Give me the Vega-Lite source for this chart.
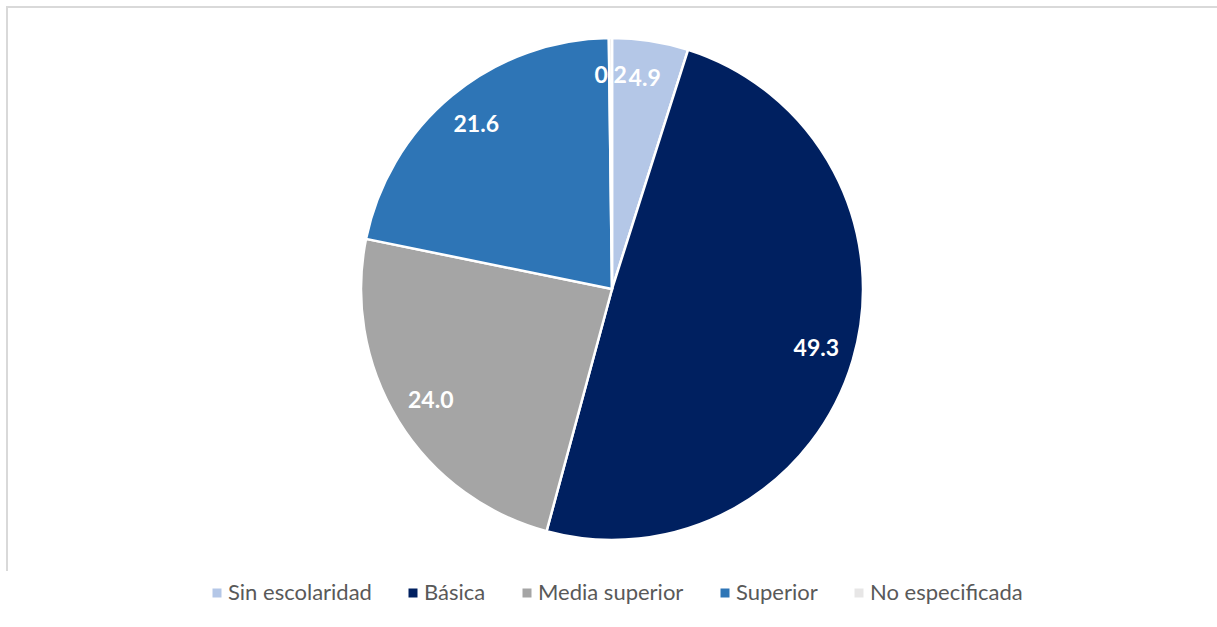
{
  "$schema": "https://vega.github.io/schema/vega-lite/v6.json",
  "width": 1210,
  "height": 564,
  "padding": {"left": 7, "top": 7, "right": 0, "bottom": 0},
  "autosize": {"type": "pad"},
  "background": "white",
  "view": {"stroke": "#D9D9D9", "strokeWidth": 2, "strokeDash": [1210, 1774, 564], "fill": "white"},
  "data": {
    "values": [
      {"cat": "Sin escolaridad", "val": 4.9, "label": "4.9", "ord": 1},
      {"cat": "Básica", "val": 49.3, "label": "49.3", "ord": 2},
      {"cat": "Media superior", "val": 24.0, "label": "24.0", "ord": 3},
      {"cat": "Superior", "val": 21.6, "label": "21.6", "ord": 4},
      {"cat": "No especificada", "val": 0.2, "label": "0.2", "ord": 5}
    ]
  },
  "encoding": {
    "theta": {"field": "val", "type": "quantitative", "stack": true},
    "order": {"field": "ord", "type": "quantitative"}
  },
  "layer": [
    {
      "mark": {"type": "arc", "outerRadius": 251, "stroke": "white", "strokeWidth": 2.5},
      "encoding": {
        "color": {
          "field": "cat",
          "type": "nominal",
          "sort": null,
          "scale": {
            "domain": ["Sin escolaridad", "Básica", "Media superior", "Superior", "No especificada"],
            "range": ["#B4C7E7", "#002060", "#A5A5A5", "#2E75B6", "#E7E6E6"]
          },
          "legend": {
            "title": null,
            "orient": "none",
            "direction": "horizontal",
            "legendX": 199,
            "legendY": 575,
            "symbolType": "square",
            "symbolSize": 81,
            "symbolStrokeWidth": 0,
            "labelFont": "Lato",
            "labelFontSize": 22,
            "labelColor": "#595959",
            "labelOffset": 0,
            "columnPadding": 30,
            "padding": 0
          }
        }
      }
    },
    {
      "mark": {"type": "text", "radius": 213, "font": "Lato", "fontWeight": "bold", "fontSize": 23, "fill": "white"},
      "encoding": {"text": {"field": "label", "type": "nominal"}}
    }
  ]
}
